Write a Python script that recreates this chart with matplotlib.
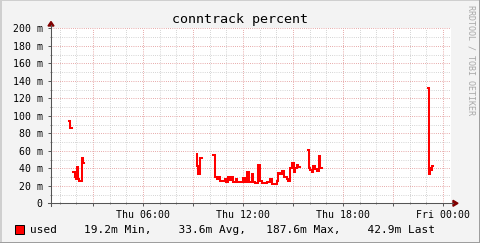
import numpy as np
import matplotlib
matplotlib.use("Agg")
import matplotlib.pyplot as plt
from matplotlib.lines import Line2D
from matplotlib.patches import Polygon, Rectangle

# ---- data (hours since Thu 00:00, values in milli-units) ----
seg1a_t = [1.54, 1.60, 1.71]
seg1a_v = [94, 86, 86]
seg1b_t = [1.82, 1.90, 1.98, 2.06, 2.12, 2.18, 2.24, 2.36, 2.40, 2.48]
seg1b_v = [36, 30, 28, 41, 28, 26, 25, 52, 46, 46]
seg2a_t = [9.22, 9.27, 9.33, 9.42, 9.54]
seg2a_v = [56, 43, 33, 51.5, 51.5]
seg2b_t = [10.22, 10.30, 10.42, 10.54, 10.62, 10.92, 10.98, 11.12, 11.22, 11.32,
           11.42, 11.58, 11.66, 12.02, 12.12, 12.22, 12.38, 12.52, 12.62, 12.72,
           12.92, 13.02, 13.12, 13.42, 13.62, 13.72, 14.02, 14.12, 14.22, 14.36,
           14.46, 14.66, 14.72, 14.82, 14.92, 14.97, 15.02, 15.06, 15.14, 15.24,
           15.32, 15.45]
seg2b_v = [55, 29.7, 27.4, 29.7, 26, 27.4, 24.6, 29.7, 26.5, 29.7,
           24.6, 27.4, 24, 28.6, 24.6, 36, 24.7, 34, 24.6, 23,
           43.7, 25, 23, 24.7, 28, 22, 25, 35, 33, 37,
           30.4, 28, 26, 40, 46, 41, 46, 36, 40, 44,
           41, 41]
seg2c_t = [15.92, 15.96, 16.02, 16.12, 16.22, 16.32, 16.42, 16.56, 16.62, 16.72]
seg2c_v = [61, 40.7, 38, 35.4, 43, 39, 37, 54, 40, 40]
seg3_t = [23.12, 23.16, 23.22, 23.30, 23.34, 23.40]
seg3_v = [131.4, 33.5, 40, 38, 43, 43]

segments_t = [seg1a_t, seg1b_t, seg2a_t, seg2b_t, seg2c_t, seg3_t]
segments_v = [seg1a_v, seg1b_v, seg2a_v, seg2b_v, seg2c_v, seg3_v]

x_tick_pos = [6, 12, 18, 24]
x_tick_labels = ["Thu 06:00", "Thu 12:00", "Thu 18:00", "Fri 00:00"]
y_tick_pos = list(range(0, 201, 20))
y_tick_labels = ["0" if v == 0 else f"{v} m" for v in y_tick_pos]

title = "conntrack percent"
legend_label = "used"
legend_stats = "    19.2m Min,    33.6m Avg,   187.6m Max,    42.9m Last"

# ---- figure ----
W, H = 481, 243
plt.rcParams['font.family'] = ['DejaVu Sans Mono']
fig = plt.figure(figsize=(W / 100, H / 100), dpi=100, facecolor='#F3F3F3')

def fx(x):
    return x / W

def fy(y):
    return 1 - y / H

L, R, T, B = 51, 451, 28.3, 203.3
ax = fig.add_axes([fx(L), fy(B), (R - L) / W, (B - T) / H])
ax.set_facecolor('white')
ax.set_xlim(0.48, 24.48)
ax.set_ylim(0, 200)

for s in ax.spines.values():
    s.set_visible(False)

ax.set_xticks([3, 6, 9, 12, 15, 18, 21, 24])
ax.set_xticklabels(["", x_tick_labels[0], "", x_tick_labels[1], "",
                    x_tick_labels[2], "", x_tick_labels[3]])
ax.set_xticks(np.arange(1, 25, 1), minor=True)
ax.set_yticks(y_tick_pos)
ax.set_yticklabels(y_tick_labels)
ax.set_yticks(np.arange(10, 200, 20), minor=True)

ax.grid(which='minor', color='#C8C8C8', linestyle=(0, (0.72, 1.44)), linewidth=0.72)
ax.grid(which='major', color='#E09090', linestyle=(0, (0.72, 1.44)), linewidth=0.72)
ax.set_axisbelow(True)

ax.tick_params(axis='both', which='major', length=2.5, width=0.7, color='#555555',
               labelsize=7.1, labelcolor='#000000', direction='out')
ax.tick_params(axis='x', which='major', pad=2)
ax.tick_params(axis='y', which='major', pad=3.5)
ax.tick_params(axis='both', which='minor', length=1.5, width=0.7, color='#888888',
               direction='inout')

for t, v in zip(segments_t, segments_v):
    ax.plot(t, v, color='#FF0000', linewidth=1.45, drawstyle='steps-post',
            solid_joinstyle='miter', zorder=3)

# axis lines with arrows
axcol = '#555555'
arrowcol = '#800000'
fig.add_artist(Line2D([fx(48), fx(453)], [fy(B), fy(B)], color=axcol, lw=0.75,
                      transform=fig.transFigure))
fig.add_artist(Line2D([fx(L), fx(L)], [fy(206), fy(25)], color=axcol, lw=0.75,
                      transform=fig.transFigure))
fig.add_artist(Polygon([[fx(453), fy(B - 3)], [fx(458), fy(B)], [fx(453), fy(B + 3)]],
                       closed=True, color=arrowcol, transform=fig.transFigure))
fig.add_artist(Polygon([[fx(L - 3), fy(26)], [fx(L), fy(21.5)], [fx(L + 3), fy(26)]],
                       closed=True, color=arrowcol, transform=fig.transFigure))

# title
fig.text(fx(240), fy(19), title, ha='center', va='center', fontsize=9.6, color='#000000')

# legend
fig.add_artist(Rectangle((fx(15), fy(234)), 9 / W, 9.5 / H, facecolor='#FF0000',
                         edgecolor='#000000', linewidth=0.7, transform=fig.transFigure))
fig.text(fx(30), fy(229.5), legend_label + legend_stats, ha='left', va='center',
         fontsize=8, color='#000000')

# watermark
fig.text(fx(471.5), fy(60), "RRDTOOL / TOBI OETIKER", rotation=270, ha='center',
         va='center', fontsize=6, color='#A8A8A8')

# frame
fig.add_artist(Line2D([0, 1], [fy(0.5), fy(0.5)], color='#CFCFCF', lw=1.4, transform=fig.transFigure))
fig.add_artist(Line2D([fx(0.5), fx(0.5)], [0, 1], color='#CFCFCF', lw=1.4, transform=fig.transFigure))
fig.add_artist(Line2D([0, 1], [fy(242.5), fy(242.5)], color='#9C9C9C', lw=1.4, transform=fig.transFigure))
fig.add_artist(Line2D([fx(480.5), fx(480.5)], [0, 1], color='#9C9C9C', lw=1.4, transform=fig.transFigure))

fig.savefig("out.png", dpi=100, facecolor=fig.get_facecolor())
